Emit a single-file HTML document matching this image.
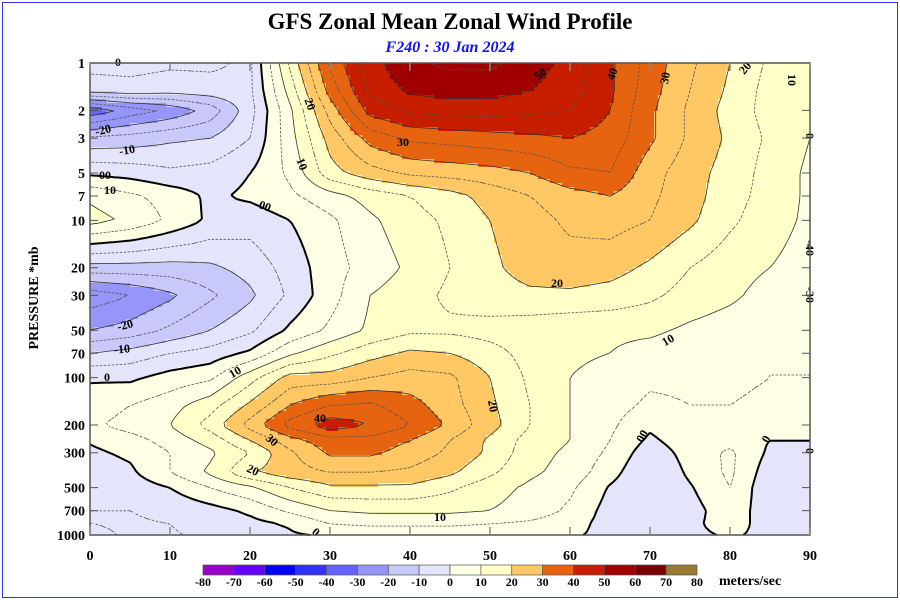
<!DOCTYPE html>
<html><head><meta charset="utf-8">
<style>
html,body{margin:0;padding:0;background:#fff;}
svg{display:block;font-family:"Liberation Serif",serif;}
</style></head>
<body>
<svg id="chart" width="900" height="600" viewBox="0 0 900 600" xmlns="http://www.w3.org/2000/svg">
<rect x="2.5" y="2.5" width="895" height="595" fill="#fff" stroke="#3030ff" stroke-width="1"/>
<text x="450" y="29" text-anchor="middle" font-size="23" font-weight="bold" fill="#000">GFS Zonal Mean Zonal Wind Profile</text>
<text x="450" y="52" text-anchor="middle" font-size="16" font-weight="bold" font-style="italic" fill="#1010ff">F240 : 30 Jan 2024</text>
<g id="fills"></g>
<g id="lines"></g>
<g id="clabels" font-size="12" font-weight="bold" fill="#000"></g>
<g id="axes"></g>
<text transform="translate(38,298) rotate(-90)" text-anchor="middle" font-size="14" font-weight="bold">PRESSURE *mb</text>
<g id="cbar"></g>
</svg>
<script>
// ---- data ----
const lats = [0,5,10,15,20,25,30,35,40,45,50,55,60,65,70,75,80,85,90];
const levels = [1,1.5,2,3,5,7,10,20,30,50,70,100,150,200,250,300,400,500,700,850,1000];
const u1    = [-3,-3,-4,-4,-6,16,36,48,54,56,56,53,48,41,33,26,20,14,10];
const u1p5  = [-8,-7,-8,-7,-6,12,32,46,51,52,52,50,47,41,32,25,19,13,10];
const u2    = [-34,-28,-24,-18,-7,9,27,42,46,47,47,46,45,40,31,24,18,13,10];
const u3    = [-14,-13,-11,-10,-5,8,22,32,36,37,38,39,40,38,31,24,19,14,10];
const u5    = [-1,-2,-4,-3,0,6,18,23,26,27,28,30,34,35,27,22,18,13,9];
const u7    = [9,6,3,-1,1,4,8,12,15,18,22,25,28,30,26,22,17,13,9];
const u10   = [12,9,4,-1,-3,0,4,9,13,16,20,23,26,27,25,21,16,12,9];
const u20   = [-12,-12,-12,-11,-8,-3,3,7,11,15,19,22,23,22,19,15,12,10,8];
const u30   = [-28,-25,-21,-16,-11,-4,3,10,13,16,18,19,19,18,16,13,11,8,7];
const u50   = [-20,-18,-14,-10,-6,1,6,11,14,14,13,12,11,11,11,9,7.5,6,5];
const u70   = [-10,-8,-5,-3,1,9,14,18,21,20,17,13,11,10,8,7,6,5,5];
const u100  = [-0.5,-1,2,4,13,22,22,25,27,26,20,14,10,8,6,6,6,5,5];
const u150  = [2,5,8,13,21,30,35,36,32,27,21,15,10,7,4,5,5,4,4];
const u200  = [4,7,10,17,27,37,43,40,35,29,22,15,10,6,1,4,4,2,2];
const u250  = [0.5,3,7,12,20,28,33,33,30,25,19,13,10,5,-1,3,3,0,0];
const u300  = [-1,1,5,9,15,24,31,31,28,24,19,12,9,4,-3,2,6,-1,-1];
const u400  = [-3,-1,5,11,19.5,23,25,25,24,21,16,11,8,2,-5,1,6,-3,-2];
const u500  = [-4,-3,0,5,9,15,19,19,19,16,12,9,6,-0.5,-5,-0.5,5,-4,-2];
const u700  = [-5,-5,-4,-2,1,6,10,11,11,11,10,8,4,-2,-4,-2,3,-3,-2];
const u850  = [-5,-5.5,-5,-3,-1.5,0.5,5,6,6,6,5,4,2,-2,-3,-1,2,-2,-2];
const u1000 = [-4,-5.5,-5.5,-4,-2,-0.5,0.5,1,1,1,1,1,0.5,-1,-2,-1,0.5,-1,-1];
const rows = [u1,u1p5,u2,u3,u5,u7,u10,u20,u30,u50,u70,u100,u150,u200,u250,u300,u400,u500,u700,u850,u1000];
const binEdges = [-80,-70,-60,-50,-40,-30,-20,-10,0,10,20,30,40,50,60,70,80];
const binColors = ["#9600c8","#6400ff","#0000ff","#3232fa","#6464fa","#9696fa","#c8c8fa","#e4e4fa","#ffffe6","#ffffc8","#ffc864","#e6640f","#c81e00","#a00000","#780000","#9a7a30"];
const yTicks = [1,2,3,5,7,10,20,30,50,70,100,200,300,500,700,1000];
const xTicks = [0,10,20,30,40,50,60,70,80,90];

// ---- scales ----
const X0=90, X1=810, Y0=63, Y1=535;
const xs = lat => X0 + (lat/90)*(X1-X0);
const ys = p => Y0 + (Math.log10(p)/3)*(Y1-Y0);
const NS="http://www.w3.org/2000/svg";
function mk(tag, attrs, parent){const e=document.createElementNS(NS,tag);for(const k in attrs)e.setAttribute(k,attrs[k]);parent.appendChild(e);return e;}
const logLev = levels.map(p=>Math.log10(p));
function field(lat, lp){
  let i=Math.min(Math.max(Math.floor(lat/5),0),lats.length-2);
  let fx=(lat-lats[i])/5; fx=Math.max(0,Math.min(1,fx));
  let j=0; while(j<logLev.length-2 && lp>logLev[j+1]) j++;
  let fy=(lp-logLev[j])/(logLev[j+1]-logLev[j]); fy=Math.max(0,Math.min(1,fy));
  const a=rows[j][i],b=rows[j][i+1],c=rows[j+1][i],d=rows[j+1][i+1];
  return (a*(1-fx)+b*fx)*(1-fy)+(c*(1-fx)+d*fx)*fy;
}
function binOf(v){for(let k=0;k<binColors.length;k++){if(v<binEdges[k+1])return k;}return binColors.length-1;}

// ---- grid ----
const S=4, NX=Math.round((X1-X0)/S), NY=Math.round((Y1-Y0)/S);
const G=[];
for(let r=0;r<=NY;r++){const row=[];const y=Y0+(Y1-Y0)*r/NY;const lp=(y-Y0)/(Y1-Y0)*3;
  for(let c=0;c<=NX;c++){const lat=(c/NX)*90;row.push(field(lat,lp));}G.push(row);}

// ---- fills ----
const fills=document.getElementById('fills');
const cw=(X1-X0)/NX, ch=(Y1-Y0)/NY;
for(let r=0;r<NY;r++){
  let start=0, cur=-1;
  for(let c=0;c<=NX;c++){
    let b=-2;
    if(c<NX){const v=(G[r][c]+G[r][c+1]+G[r+1][c]+G[r+1][c+1])/4;b=binOf(v);}
    if(b!==cur){
      if(cur>=0){
        const rc=mk('rect',{x:(X0+start*cw).toFixed(2),y:(Y0+r*ch).toFixed(2),width:((c-start)*cw+0.6).toFixed(2),height:(ch+0.6).toFixed(2),fill:binColors[cur]},fills);
        
        
      }
      cur=b;start=c;
    }
  }
}

// ---- contour lines (marching squares) ----
const lines=document.getElementById('lines');
for(let L=-35;L<=60;L+=5){
  let d='';
  for(let r=0;r<NY;r++)for(let c=0;c<NX;c++){
    const tl=G[r][c],tr=G[r][c+1],br=G[r+1][c+1],bl=G[r+1][c];
    const x0=X0+c*cw,y0=Y0+r*ch,x1=x0+cw,y1=y0+ch;
    const pts=[];
    const cross=(a,b)=>(a<L)!==(b<L);
    const t=(a,b)=>(L-a)/(b-a);
    if(cross(tl,tr))pts.push([x0+t(tl,tr)*cw,y0]);
    if(cross(tr,br))pts.push([x1,y0+t(tr,br)*ch]);
    if(cross(br,bl))pts.push([x1-t(br,bl)*cw,y1]);
    if(cross(bl,tl))pts.push([x0,y1-t(bl,tl)*ch]);
    if(pts.length===2){d+=`M${pts[0][0].toFixed(1)},${pts[0][1].toFixed(1)}L${pts[1][0].toFixed(1)},${pts[1][1].toFixed(1)}`;}
    else if(pts.length===4){
      const ctr=(tl+tr+br+bl)/4;
      if((ctr<L)===(tl<L)){d+=`M${pts[0][0]},${pts[0][1]}L${pts[1][0]},${pts[1][1]}M${pts[2][0]},${pts[2][1]}L${pts[3][0]},${pts[3][1]}`;}
      else{d+=`M${pts[0][0]},${pts[0][1]}L${pts[3][0]},${pts[3][1]}M${pts[1][0]},${pts[1][1]}L${pts[2][0]},${pts[2][1]}`;}
    }
  }
  if(!d)continue;
  let st={fill:'none',d:d,'stroke-linecap':'butt'};
  if(L===0){st.stroke='#000';st['stroke-width']='2';}
  else if(L%10===0){st.stroke='#333';st['stroke-width']='0.8';}
  else{st.stroke='#555';st['stroke-width']='0.8';st['stroke-dasharray']='2.5,2';}
  const pth=mk('path',st,lines);
  
  
}

// ---- contour labels ----
const labs=[["0",118,66,0],["-20",103,134,-15],["-10",127,154,-10],["00",105,179,0],["10",110,194,0],["00",265,210,20],["20",310,108,70],["10",302,168,70],["30",403,146,0],["50",540,78,-40],["40",612,78,-70],["30",665,82,-80],["20",745,72,-50],["10",792,84,90],["20",557,287,0],["10",668,344,-30],["-20",125,329,-15],["-10",122,353,-5],["0",107,381,0],["10",235,376,-30],["40",320,422,0],["30",272,444,40],["20",253,474,25],["20",493,410,80],["10",440,521,0],["0",316,536,40],["00",642,440,-60],["0",766,443,-60],["0",810,140,90],["-40",810,252,90],["-30",810,299,90],["0",810,455,90]];
const cl=document.getElementById('clabels');
for(const [t,x,y,a] of labs){
  const e=mk('text',{x:x,y:y,'text-anchor':'middle',transform:`rotate(${a},${x},${y-4})`},cl);
  e.textContent=t;
  
  
}

// ---- axes ----
const ax=document.getElementById('axes');
const frame=mk('rect',{x:X0,y:Y0,width:X1-X0,height:Y1-Y0,fill:'none',stroke:'#555','stroke-width':'1.5'},ax);


for(const p of yTicks){
  const y=ys(p);
  const tk=mk('path',{d:`M${X0},${y}h8M${X1},${y}h-8`,stroke:'#555','stroke-width':'1'},ax);
  
  
  const tl=mk('text',{x:X0-5,y:y+5,'text-anchor':'end','font-size':'14','font-weight':'bold'},ax);
  tl.textContent=p;
  
  
}
for(const l of xTicks){
  const x=xs(l);
  const tk=mk('path',{d:`M${x},${Y1}v-8M${x},${Y0}v8`,stroke:'#888','stroke-width':'1.5'},ax);
  
  
  const tl=mk('text',{x:x,y:Y1+25,'text-anchor':'middle','font-size':'14','font-weight':'bold'},ax);
  tl.textContent=l;
  
  
}

// ---- color legend ----
const cb=document.getElementById('cbar');
const CB0=203, CB1=697, bw=(CB1-CB0)/binColors.length;
binColors.forEach((col,k)=>{
  const r=mk('rect',{x:CB0+k*bw,y:565,width:bw,height:10,fill:col,stroke:'#555','stroke-width':'0.7'},cb);
  
  
});
binEdges.forEach((v,k)=>{
  const t=mk('text',{x:CB0+k*bw,y:586,'text-anchor':'middle','font-size':'12','font-weight':'bold'},cb);
  t.textContent=v;
  
  
});
const unit=mk('text',{x:719,y:585,'font-size':'14','font-weight':'bold'},cb);
unit.textContent='meters/sec';


</script>
</body></html>
